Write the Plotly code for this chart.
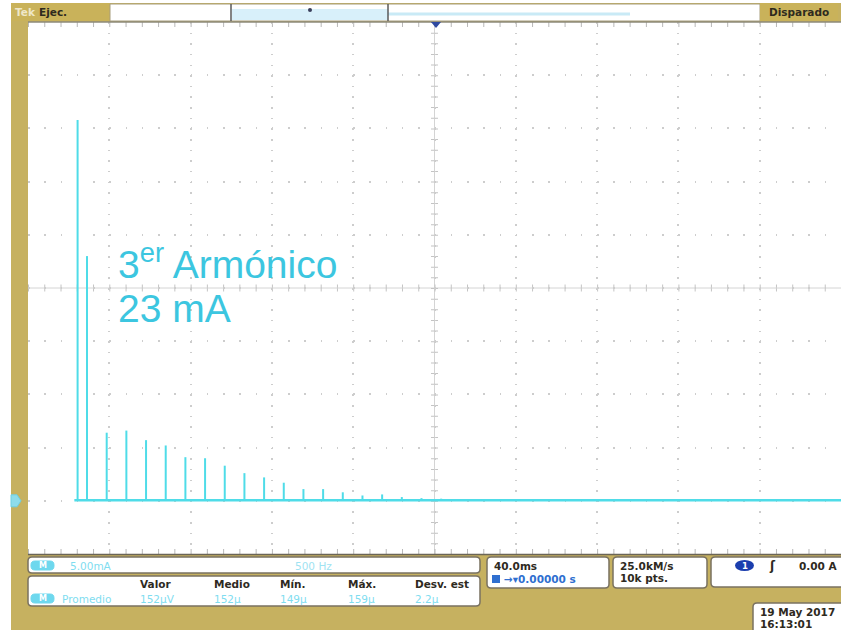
import plotly.graph_objects as go

# ---- FFT of the load current: harmonic lines ----
harm_freq_hz = [305, 363, 484, 605, 726, 847, 968, 1089, 1210, 1331, 1452, 1573,
                1694, 1815, 1936, 2057, 2178, 2299, 2420, 2541, 2662, 2783, 2904, 3025]
harm_amp_ma = [35.8, 23.0, 6.4, 6.6, 5.7, 5.2, 4.1, 4.0, 3.3, 2.6, 2.2, 1.7,
               1.1, 1.1, 0.8, 0.5, 0.6, 0.35, 0.25, 0.2, 0.15, 0.15, 0.12, 0.1]
floor_freq_hz = [285, 5000]
floor_amp_ma = [0.05, 0.05]

# horizontal 500 Hz/div, vertical 5 mA/div, 10 x 10 divisions
x_range = [0, 5000]
y_range = [-5, 45]
x_div, y_div = 500, 5

# readout texts
label_line1 = "3<sup>er</sup> Armónico"
label_line2 = "23 mA"
meas_headers = ["Valor", "Medio", "Mín.", "Máx.", "Desv. est"]
meas_values = ["152µV", "152µ", "149µ", "159µ", "2.2µ"]

TRACE = "#4FDCE8"
LABEL = "#3CC6E0"
GOLD = "#C6B160"
DARK = "#2E2A1E"

W, H = 841, 630
L, T, R, B = 28, 22, 0, 76
PW, PH = W - L - R, H - T - B


def px(x):
    return (x - L) / PW


def py(y):
    return (H - B - y) / PH


def rrect(x0, y0, x1, y1, r=4):
    pts = [
        ("M", [(x0 + r, y0)]), ("L", [(x1 - r, y0)]), ("Q", [(x1, y0), (x1, y0 + r)]),
        ("L", [(x1, y1 - r)]), ("Q", [(x1, y1), (x1 - r, y1)]), ("L", [(x0 + r, y1)]),
        ("Q", [(x0, y1), (x0, y1 - r)]), ("L", [(x0, y0 + r)]), ("Q", [(x0, y0), (x0 + r, y0)]),
    ]
    s = ""
    for cmd, cs in pts:
        s += cmd + " " + " ".join(f"{px(a):.5f},{py(b):.5f}" for a, b in cs) + " "
    return s + "Z"


shapes = []
annos = []


def box(x0, y0, x1, y1, fill="white", line="#7a7260", width=1.5, r=4, layer="above"):
    shapes.append(dict(type="path", xref="paper", yref="paper", path=rrect(x0, y0, x1, y1, r),
                       fillcolor=fill, line=dict(color=line, width=width), layer=layer))


def rect(x0, y0, x1, y1, fill, line=None, width=0, layer="above"):
    shapes.append(dict(type="rect", xref="paper", yref="paper", x0=px(x0), x1=px(x1),
                       y0=py(y1), y1=py(y0), fillcolor=fill,
                       line=dict(color=line or fill, width=width), layer=layer))


def hline(x0, x1, y, color, width=1):
    shapes.append(dict(type="line", xref="paper", yref="paper", x0=px(x0), x1=px(x1),
                       y0=py(y), y1=py(y), line=dict(color=color, width=width)))


def vline(x, y0, y1, color, width=1):
    shapes.append(dict(type="line", xref="paper", yref="paper", x0=px(x), x1=px(x),
                       y0=py(y0), y1=py(y1), line=dict(color=color, width=width)))


def text(x, y, s, color=DARK, size=11, bold=True, xanchor="left", family="DejaVu Sans"):
    annos.append(dict(xref="paper", yref="paper", x=px(x), y=py(y), xanchor=xanchor,
                      yanchor="middle", showarrow=False,
                      text=f"<b>{s}</b>" if bold else s,
                      font=dict(family=family, size=size, color=color)))


fig = go.Figure()

# noise floor and harmonic stems
fig.add_trace(go.Scatter(x=floor_freq_hz, y=floor_amp_ma, mode="lines",
                         line=dict(color=TRACE, width=2.5), hoverinfo="skip"))
stem_x, stem_y = [], []
for f, a in zip(harm_freq_hz, harm_amp_ma):
    stem_x += [f, f, None]
    stem_y += [0, a, None]
fig.add_trace(go.Scatter(x=stem_x, y=stem_y, mode="lines",
                         line=dict(color=TRACE, width=2), hoverinfo="skip"))

# centre cross with minor ticks
x_mid = sum(x_range) / 2
y_mid = sum(y_range) / 2
minor_x_px = PW / 10 / 5
minor_y_px = PH / 10 / 5
shapes.append(dict(type="line", xref="x", yref="y", x0=x_range[0], x1=x_range[1], y0=y_mid, y1=y_mid,
                   line=dict(color="#d4d4d4", width=1), layer="below"))
shapes.append(dict(type="line", xref="x", yref="y", x0=x_mid, x1=x_mid, y0=y_range[1], y1=y_range[0],
                   line=dict(color="#d4d4d4", width=1), layer="below"))
shapes.append(dict(type="line", xref="x", yref="y", x0=x_range[0], x1=x_range[1], y0=y_mid, y1=y_mid,
                   line=dict(color="#c4c4c4", width=7, dash=f"1px,{minor_x_px - 1:.2f}px"), layer="below"))
shapes.append(dict(type="line", xref="x", yref="y", x0=x_mid, x1=x_mid, y0=y_range[1], y1=y_range[0],
                   line=dict(color="#c4c4c4", width=7, dash=f"1px,{minor_y_px - 1:.2f}px"), layer="below"))
# edge ticks along the top and bottom of the graticule
for yy in (y_range[0], y_range[1]):
    shapes.append(dict(type="line", xref="x", yref="y", x0=x_range[0], x1=x_range[1], y0=yy, y1=yy,
                       line=dict(color="#b8b8b8", width=10, dash=f"1px,{minor_x_px - 1:.2f}px"),
                       layer="below"))

# left strip / top margin
rect(0, 0, 11, H, "white", layer="below")
rect(0, 0, W, 3, "white", layer="below")

# ground marker of the trace
gy = 500.8
shapes.append(dict(type="path", xref="paper", yref="paper",
                   path=f"M {px(11):.5f},{py(gy - 6):.5f} L {px(17):.5f},{py(gy - 6):.5f} "
                        f"L {px(21):.5f},{py(gy):.5f} L {px(17):.5f},{py(gy + 6):.5f} "
                        f"L {px(11):.5f},{py(gy + 6):.5f} Z",
                   fillcolor="#8EDCEB", line=dict(color="#6FCFE2", width=1)))

# top status bar
rect(11, 3, 110, 21, "#C9B25A")
text(13, 12, "Tek", color="#EFE7C8", size=10.5)
text(37, 12, "Ejec.", color=DARK, size=10.5)
rect(110, 4, 760, 21, "white", line="#a89e7c", width=1)
rect(232, 9, 388, 20, "#D8F0FA")
hline(388, 630, 14, "#C9EAF6", 3)
vline(231, 4, 21, "#5a5a5a", 1.5)
vline(388, 4, 21, "#5a5a5a", 1.5)
shapes.append(dict(type="circle", xref="paper", yref="paper", x0=px(308), x1=px(312),
                   y0=py(12), y1=py(8), fillcolor="#3a3f5a", line=dict(width=0)))
rect(760, 3, 838, 21, "#C9B25A")
text(799, 12, "Disparado", color=DARK, size=10.5, xanchor="center")
hline(28, W, 22, "#8d8a7a", 1.5)
hline(28, W, 554.5, "#6b6556", 1.5)
# trigger position marker
shapes.append(dict(type="path", xref="paper", yref="paper",
                   path=f"M {px(431):.5f},{py(22):.5f} L {px(441):.5f},{py(22):.5f} "
                        f"L {px(436):.5f},{py(28):.5f} Z",
                   fillcolor="#2f4aa0", line=dict(width=0)))

# bottom readouts
box(28, 557, 480, 573)
box(31, 561, 54, 570, fill="#6ED8EE", line="#6ED8EE", width=1, r=4)
text(42.5, 565.5, "M", color="white", size=8, xanchor="center")
text(68, 565.5, "5.00mA", color="#7FDDF0", size=10.5, bold=False)
text(293, 565.5, "500 Hz", color="#9FE3F2", size=10.5, bold=False)

box(28, 576, 480, 606)
hdr_x = [138, 212, 278, 346, 413]
for xx, s in zip(hdr_x, meas_headers):
    text(xx, 584, s, size=10.5)
box(31, 594, 54, 603, fill="#6ED8EE", line="#6ED8EE", width=1, r=4)
text(42.5, 598.5, "M", color="white", size=8, xanchor="center")
text(60, 598.5, "Promedio", color="#7FDDF0", size=10.5, bold=False)
for xx, s in zip(hdr_x, meas_values):
    text(xx, 598.5, s, color="#7FDDF0", size=10.5, bold=False)

box(487, 557, 609, 588)
text(492, 566, "40.0ms", size=10.5)
rect(492, 575, 500, 583, "#2F6FD0")
text(502, 579, "→▾0.00000 s", color="#2F6FD0", size=10.5)

box(613, 557, 707, 588)
text(618, 566, "25.0kM/s", size=10.5)
text(618, 578, "10k pts.", size=10.5)

box(711, 557, 845, 587)
shapes.append(dict(type="circle", xref="paper", yref="paper", x0=px(735), x1=px(754),
                   y0=py(571), y1=py(560), fillcolor="#1B3EAE", line=dict(width=0)))
text(744.5, 565.5, "1", color="white", size=8.5, xanchor="center")
text(767, 566, "ʃ", size=12)
text(797, 566, "0.00 A", size=10.5)

box(753, 603, 845, 634)
text(758, 612, "19 May 2017", size=10.5)
text(758, 624, "16:13:01", size=10.5)

# harmonic callout
annos.append(dict(xref="paper", yref="paper", x=px(116), y=py(261), xanchor="left", yanchor="middle",
                  showarrow=False, text=label_line1,
                  font=dict(family="Liberation Sans, Arial", size=39, color=LABEL)))
annos.append(dict(xref="paper", yref="paper", x=px(116), y=py(308), xanchor="left", yanchor="middle",
                  showarrow=False, text=label_line2,
                  font=dict(family="Liberation Sans, Arial", size=39, color=LABEL)))

grid_common = dict(showticklabels=False, ticks="", zeroline=False, showline=False,
                   gridcolor="#cdcdcd", gridwidth=1.5, fixedrange=True)
fig.update_layout(
    width=W, height=H,
    margin=dict(l=L, r=R, t=T, b=B, pad=0),
    paper_bgcolor=GOLD, plot_bgcolor="white",
    showlegend=False,
    xaxis=dict(range=x_range, dtick=x_div, griddash=f"1.5px,{minor_y_px - 1.5:.2f}px", **grid_common),
    yaxis=dict(range=y_range, dtick=y_div, griddash=f"1.5px,{minor_x_px - 1.5:.2f}px", **grid_common),
    shapes=shapes,
    annotations=annos,
)

fig.write_html("out.html")
